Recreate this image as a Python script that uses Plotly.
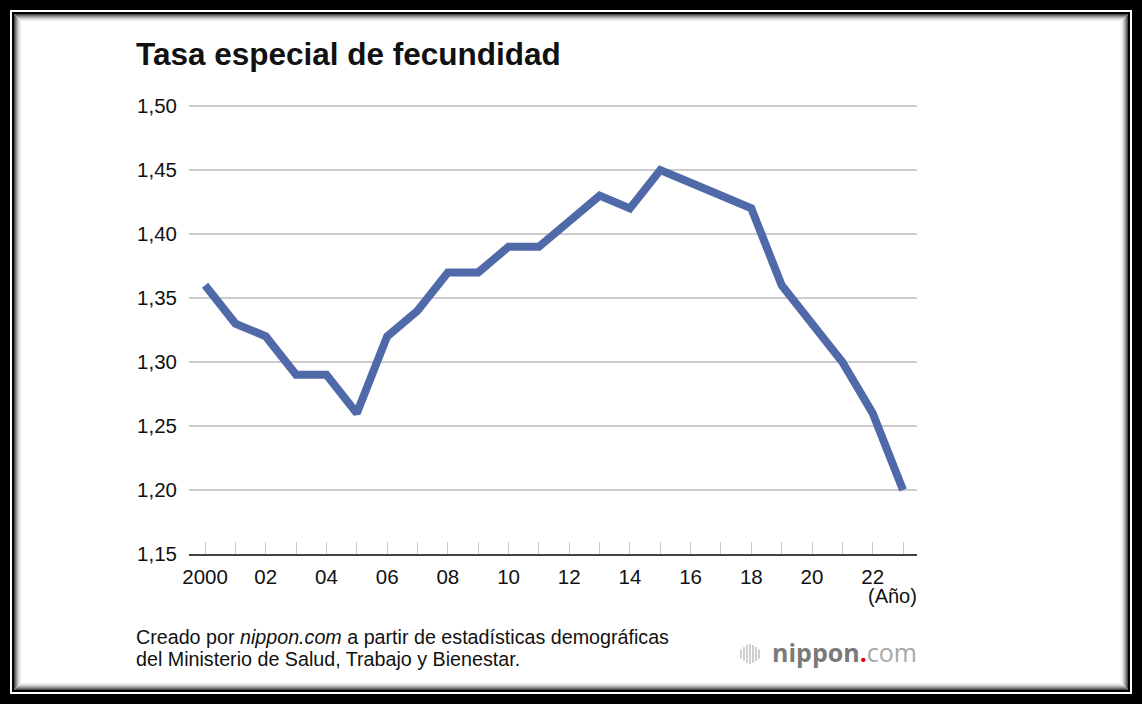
import plotly.graph_objects as go

years = list(range(2000, 2024))
rates = [1.36, 1.33, 1.32, 1.29, 1.29, 1.26, 1.32, 1.34, 1.37, 1.37, 1.39, 1.39,
         1.41, 1.43, 1.42, 1.45, 1.44, 1.43, 1.42, 1.36, 1.33, 1.30, 1.26, 1.20]
year_labels = ["2000", "", "02", "", "04", "", "06", "", "08", "", "10", "", "12", "",
               "14", "", "16", "", "18", "", "20", "", "22", ""]
y_ticks = [1.15, 1.20, 1.25, 1.30, 1.35, 1.40, 1.45, 1.50]
title = "<b>Tasa especial de fecundidad</b>"
source_1 = "Creado por <i>nippon.com</i> a partir de estadísticas demográficas"
source_2 = "del Ministerio de Salud, Trabajo y Bienestar."

W, H = 1142, 704
FONT = "Liberation Sans"

def px(x): return x / W
def py(y): return 1 - y / H

shapes = []
def frame(inset, color, width):
    shapes.append(dict(type="rect", xref="paper", yref="paper", layer="below",
                       x0=px(inset), x1=px(W - inset), y0=py(H - inset), y1=py(inset),
                       line=dict(color=color, width=width), fillcolor="rgba(0,0,0,0)"))

frame(5, "#000000", 10)
frame(11, "#ffffff", 2)
frame(13, "#000000", 2)
for i, c in enumerate(["#4a4a4a", "#707070", "#949494", "#b4b4b4", "#cfcfcf", "#e4e4e4", "#f2f2f2", "#fafafa"]):
    frame(14.5 + i, c, 1)

# logo icon
for i, (dx, h) in enumerate([(0, 9), (3, 14), (6, 18), (9, 20), (12, 18), (15, 14), (18, 9)]):
    shapes.append(dict(type="line", xref="paper", yref="paper",
                       x0=px(741 + dx), x1=px(741 + dx), y0=py(654 - h / 2), y1=py(654 + h / 2),
                       line=dict(color="#b5b5b5", width=1.3)))

fig = go.Figure(go.Scatter(x=years, y=rates, mode="lines",
                           line=dict(color="#5069a9", width=8), cliponaxis=False,
                           hoverinfo="skip"))

def note(text, x, y, anchor, size, family=FONT):
    return dict(text=text, xref="paper", yref="paper", x=px(x), y=py(y), xanchor=anchor, yanchor="middle",
                showarrow=False, align="left", font=dict(size=size, family=family, color="#111111"))

fig.update_layout(
    width=W, height=H, margin=dict(l=0, r=0, t=0, b=0), autosize=False,
    paper_bgcolor="#ffffff", plot_bgcolor="#ffffff", showlegend=False,
    separators=",.", font=dict(family=FONT, color="#111111"), shapes=shapes,
    xaxis=dict(domain=[px(189), px(917)], range=[1999.47, 2023.46], automargin=False,
               tickmode="array", tickvals=years, ticktext=year_labels,
               ticks="inside", ticklen=12, tickwidth=1, tickcolor="#c8c8c8", ticklabelstandoff=3,
               showgrid=False, zeroline=False, showline=True, linecolor="#444444", linewidth=2,
               tickfont=dict(size=20.5, family=FONT, color="#111111")),
    yaxis=dict(domain=[py(554), py(104.72)], range=[1.15, 1.501], automargin=False,
               tickmode="array", tickvals=y_ticks, tickformat=".2f", ticks="", ticklabelstandoff=11,
               showgrid=True, gridcolor="#cccccc", gridwidth=1.5, zeroline=False, showline=False,
               tickfont=dict(size=20.5, family=FONT, color="#111111")),
    annotations=[
        note(title, 134, 54, "left", 31.5),
        note("(Año)", 919, 596, "right", 20),
        note(source_1, 134, 637, "left", 19.7),
        note(source_2, 134, 659, "left", 19.7),
        note('<b><span style="color:#7a7a7a">nippon</span><span style="color:#e60012">.</span></b><span style="color:#a8a8a8">com</span>',
             919, 652, "right", 25, "Open Sans"),
    ],
)

fig.write_html("out.html", post_script="document.body.style.margin='0';", config=dict(displayModeBar=False))
